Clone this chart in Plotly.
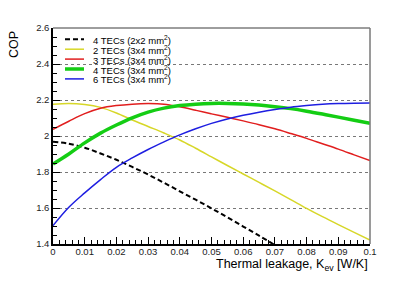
import plotly.graph_objects as go

# Thermal leakage K_ev [W/K]
k_values = [0.0, 0.005, 0.01, 0.015, 0.02, 0.025, 0.03, 0.035, 0.04, 0.045, 0.05,
            0.055, 0.06, 0.065, 0.07, 0.075, 0.08, 0.085, 0.09, 0.095, 0.1]

cop_4tec_2x2 = [1.968, 1.957, 1.935, 1.903, 1.868, 1.828, 1.786, 1.740, 1.693, 1.646, 1.598,
                1.548, 1.497, 1.446, 1.394]
cop_2tec_3x4 = [2.176, 2.181, 2.175, 2.159, 2.128, 2.089, 2.053, 2.017, 1.978, 1.932, 1.884,
                1.836, 1.789, 1.742, 1.695, 1.647, 1.598, 1.552, 1.508, 1.465, 1.422]
cop_3tec_3x4 = [2.037, 2.082, 2.124, 2.154, 2.169, 2.177, 2.180, 2.177, 2.162, 2.143, 2.123,
                2.104, 2.084, 2.063, 2.040, 2.014, 1.987, 1.957, 1.927, 1.895, 1.863]
cop_4tec_3x4 = [1.844, 1.900, 1.962, 2.016, 2.061, 2.101, 2.133, 2.155, 2.169, 2.177, 2.181,
                2.181, 2.178, 2.172, 2.163, 2.152, 2.138, 2.122, 2.105, 2.088, 2.070]
cop_6tec_3x4 = [1.502, 1.604, 1.684, 1.758, 1.826, 1.878, 1.925, 1.967, 2.006, 2.040, 2.070,
                2.095, 2.115, 2.132, 2.147, 2.160, 2.169, 2.176, 2.180, 2.182, 2.183]

labels = ["4 TECs (2x2 mm<sup>2</sup>)", "2 TECs (3x4 mm<sup>2</sup>)", "3 TECs (3x4 mm<sup>2</sup>)",
          "4 TECs (3x4 mm<sup>2</sup>)", "6 TECs (3x4 mm<sup>2</sup>)"]

x_ticks = [0, 0.01, 0.02, 0.03, 0.04, 0.05, 0.06, 0.07, 0.08, 0.09, 0.1]
x_tick_text = ["0", "0.01", "0.02", "0.03", "0.04", "0.05", "0.06", "0.07", "0.08", "0.09", "0.1"]
y_ticks = [1.4, 1.6, 1.8, 2.0, 2.2, 2.4, 2.6]
y_tick_text = ["1.4", "1.6", "1.8", "2", "2.2", "2.4", "2.6"]

FONT = "Liberation Sans, Arial, sans-serif"

styles = [
    dict(color="black", width=2, dash="5px,3px"),
    dict(color="rgb(215,215,40)", width=1.5),
    dict(color="rgb(225,30,30)", width=1.5),
    dict(color="rgb(20,205,20)", width=3.5),
    dict(color="rgb(30,30,225)", width=1.5),
]
series = [cop_4tec_2x2, cop_2tec_3x4, cop_3tec_3x4, cop_4tec_3x4, cop_6tec_3x4]

fig = go.Figure()
for lab, ys, st in zip(labels, series, styles):
    fig.add_trace(go.Scatter(x=k_values[:len(ys)], y=ys, mode="lines", name=lab,
                             line=dict(shape="spline", **st), showlegend=False))

# plot area in figure pixels: x 45..362, y 20..236
L, R, T, B = 45, 362, 20, 236
def px(xp):
    return (xp - L) / (R - L)
def py(yp):
    return (B - yp) / (B - T)

# white box behind the legend (covers grid)
fig.add_shape(type="rect", xref="paper", yref="paper", x0=px(46), x1=px(177), y0=py(78), y1=py(21),
              fillcolor="white", line=dict(width=0), layer="between")
# top and right frame
fig.add_shape(type="line", xref="paper", yref="paper", x0=0, x1=1, y0=1, y1=1,
              line=dict(color="rgb(60,60,60)", width=1))
fig.add_shape(type="line", xref="paper", yref="paper", x0=1, x1=1, y0=0, y1=1,
              line=dict(color="rgb(120,120,120)", width=1.5))

annotations = []
rows = [31.3, 41.2, 51.1, 61.0, 70.9]
for lab, st, ry in zip(labels, styles, rows):
    fig.add_shape(type="line", xref="paper", yref="paper", x0=px(57), x1=px(76), y0=py(ry), y1=py(ry),
                  line=st)
    annotations.append(dict(text=lab, xref="paper", yref="paper", x=px(83), y=py(ry + 0.5),
                            xanchor="left", yanchor="middle", showarrow=False,
                            font=dict(family=FONT, size=9.5, color="black")))

annotations += [
    dict(text="Thermal leakage, K<sub>ev</sub> [W/K]", xref="paper", yref="paper",
         x=1.0, y=py(247), xanchor="right", yanchor="top", showarrow=False,
         font=dict(family=FONT, size=12.5, color="black")),
    dict(text="COP", xref="paper", yref="paper", x=px(6), y=py(37), xanchor="center",
         yanchor="middle", textangle=-90, showarrow=False,
         font=dict(family=FONT, size=12.5, color="black")),
]

fig.update_layout(
    width=395, height=265, autosize=False,
    margin=dict(l=L, r=395 - R, t=T, b=265 - B),
    paper_bgcolor="white", plot_bgcolor="white",
    font=dict(family=FONT, size=10, color="black"),
    showlegend=False,
    xaxis=dict(range=[0, 0.1], tickvals=x_ticks, ticktext=x_tick_text,
               ticks="inside", ticklen=7, tickwidth=1, tickcolor="black",
               minor=dict(ticks="inside", dtick=0.002, ticklen=4, tickcolor="black", showgrid=False),
               showline=True, linecolor="black", linewidth=1.5, showgrid=False, zeroline=False,
               ticklabelstandoff=-2,
               tickfont=dict(family=FONT, size=9.5, color="#222")),
    yaxis=dict(range=[1.4, 2.6], tickvals=y_ticks, ticktext=y_tick_text,
               ticks="inside", ticklen=7, tickwidth=1, tickcolor="black",
               minor=dict(ticks="inside", dtick=0.05, ticklen=4, tickcolor="black", showgrid=False),
               showline=True, linecolor="black", linewidth=1.5, zeroline=False,
               showgrid=True, gridcolor="rgb(120,120,120)", gridwidth=1, griddash="dot",
               tickfont=dict(family=FONT, size=9.5, color="#222")),
    annotations=annotations,
)

fig.write_html("out.html")
